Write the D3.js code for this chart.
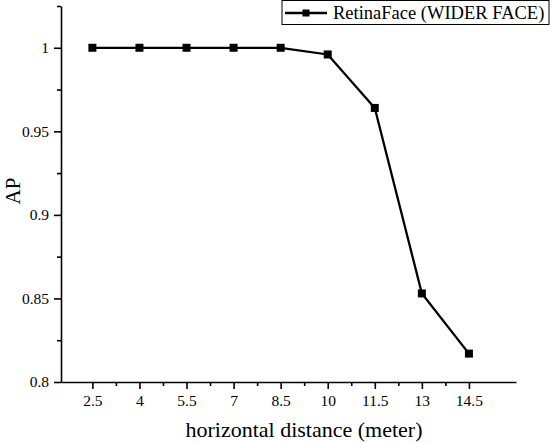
<!DOCTYPE html>
<html>
    <head>
        <meta charset="utf-8"/>
        <script src="https://cdnjs.cloudflare.com/ajax/libs/d3/7.8.5/d3.min.js"></script>
        <style>
            body { margin: 0; background: #fff; }
        </style>
    </head>
    <body>
        <script>
            // data
            const distances = [2.5, 4, 5.5, 7, 8.5, 10, 11.5, 13, 14.5];
            const apValues = [1, 1, 1, 1, 1, 0.996, 0.964, 0.853, 0.817];
            const xTicks = [2.5, 4, 5.5, 7, 8.5, 10, 11.5, 13, 14.5];
            const yTicks = [0.8, 0.85, 0.9, 0.95, 1];
            const seriesName = "RetinaFace (WIDER FACE)";

            const font = "Liberation Serif";
            const width = 558, height = 442;
            const margin = {top: 6, right: 42, bottom: 60, left: 61};

            const x = d3.scaleLinear().domain([1.5, 16]).range([margin.left, width - margin.right]);
            const y = d3.scaleLinear().domain([0.8, 1.025]).range([height - margin.bottom, margin.top]);

            const svg = d3.select("body").append("svg")
                .attr("width", width)
                .attr("height", height)
                .attr("font-family", font);

            // minor ticks halfway between major ones
            const xMinor = xTicks.slice(1).map((d, i) => (d + xTicks[i]) / 2);
            const yMinor = yTicks.map(d => d + 0.025);

            svg.append("g")
                .attr("transform", `translate(0,${y(0.8)})`)
                .call(d3.axisBottom(x).tickValues(xTicks).tickSize(7).tickSizeOuter(0).tickPadding(6).tickFormat(d3.format("")));
            svg.append("g")
                .attr("transform", `translate(0,${y(0.8)})`)
                .call(d3.axisBottom(x).tickValues(xMinor).tickSize(4).tickSizeOuter(0).tickFormat(""))
                .select(".domain").remove();

            svg.append("g")
                .attr("transform", `translate(${x(1.5)},0)`)
                .call(d3.axisLeft(y).tickValues(yTicks).tickSize(7).tickSizeOuter(0).tickPadding(5).tickFormat(d3.format("")));
            svg.append("g")
                .attr("transform", `translate(${x(1.5)},0)`)
                .call(d3.axisLeft(y).tickValues(yMinor).tickSize(4).tickSizeOuter(0).tickFormat(""))
                .select(".domain").remove();

            svg.selectAll("g").attr("font-family", font).attr("font-size", 15.5);
            svg.selectAll(".domain, .tick line").attr("stroke", "#000").attr("stroke-width", 1.6);
            svg.selectAll(".tick text").attr("fill", "#000");

            // axis titles
            svg.append("text")
                .attr("x", 304)
                .attr("y", 437)
                .attr("text-anchor", "middle")
                .attr("font-size", 22)
                .text("horizontal distance (meter)");
            svg.append("text")
                .attr("transform", `translate(19.5,191) rotate(-90)`)
                .attr("text-anchor", "middle")
                .attr("font-size", 21)
                .text("AP");

            const data = distances.map((d, i) => ({x: d, y: apValues[i]}));

            svg.append("path")
                .datum(data)
                .attr("fill", "none")
                .attr("stroke", "#000")
                .attr("stroke-width", 2.3)
                .attr("d", d3.line().x(d => x(d.x)).y(d => y(d.y)));

            const ms = 8;
            svg.selectAll("rect.pt")
                .data(data)
                .join("rect")
                .attr("class", "pt")
                .attr("x", d => x(d.x) - ms / 2)
                .attr("y", d => y(d.y) - ms / 2)
                .attr("width", ms)
                .attr("height", ms)
                .attr("fill", "#000");

            // legend
            const lg = svg.append("g").attr("transform", "translate(282,0)");
            lg.append("rect")
                .attr("x", 0).attr("y", 0.5)
                .attr("width", 267).attr("height", 24)
                .attr("fill", "#fff")
                .attr("stroke", "#000")
                .attr("stroke-width", 1);
            lg.append("line")
                .attr("x1", 3).attr("x2", 45).attr("y1", 13).attr("y2", 13)
                .attr("stroke", "#000").attr("stroke-width", 2.3);
            lg.append("rect")
                .attr("x", 24 - 3.5).attr("y", 13 - 3.5)
                .attr("width", 7).attr("height", 7)
                .attr("fill", "#000");
            lg.append("text")
                .attr("x", 51).attr("y", 19)
                .attr("font-size", 18.5)
                .text(seriesName);
        </script>
    </body>
</html>
